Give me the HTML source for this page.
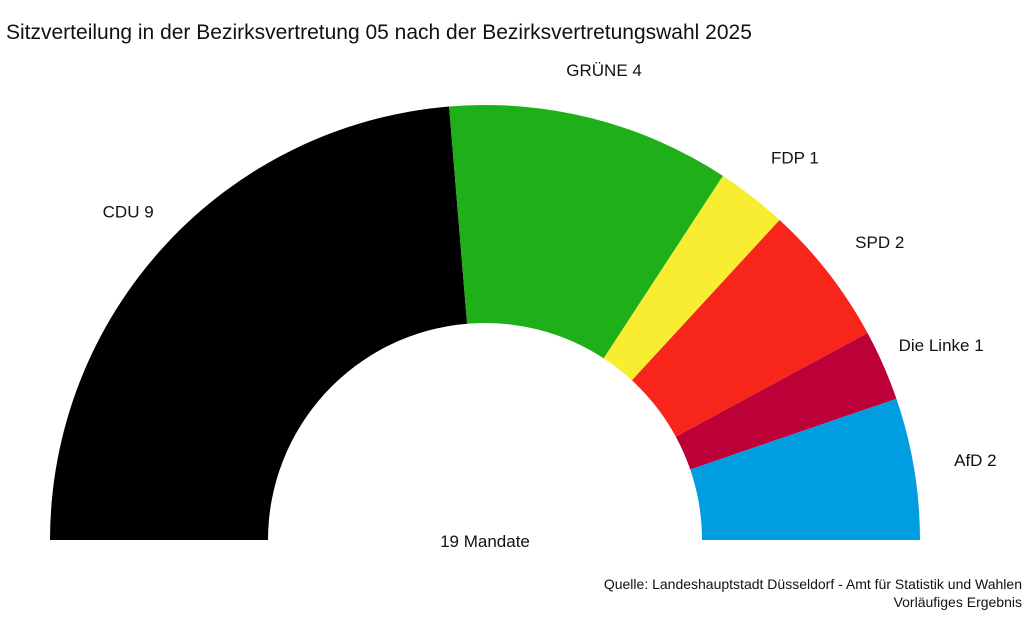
<!DOCTYPE html>
<html><head><meta charset="utf-8"><style>
body{margin:0;background:#fff;font-family:"Liberation Sans",sans-serif;}
svg{display:block}
</style></head><body>
<svg width="1024" height="640" id="chart" xmlns="http://www.w3.org/2000/svg">
<text x="6" y="39" font-size="21" fill="#111">Sitzverteilung in der Bezirksvertretung 05 nach der Bezirksvertretungswahl 2025</text>
<g id="slices"></g>
<g id="labels"></g>
<text x="485" y="547" font-size="17" text-anchor="middle" fill="#111">19 Mandate</text>
<text x="1022" y="589" font-size="14" text-anchor="end" fill="#111">Quelle: Landeshauptstadt Düsseldorf - Amt für Statistik und Wahlen</text>
<text x="1022" y="607" font-size="14" text-anchor="end" fill="#111">Vorläufiges Ergebnis</text>
</svg>
<script>
const parties = ["CDU","GRÜNE","FDP","SPD","Die Linke","AfD"];
const seats = [9,4,1,2,1,2];
const colors = ["#000000","#1fb019","#f9ed32","#f8251b","#be0039","#009ee0"];
const cx=485, cy=540, rO=435, rI=217, rL=485;
const total = seats.reduce((a,b)=>a+b,0);
const ns="http://www.w3.org/2000/svg";
const gS=document.getElementById('slices'), gL=document.getElementById('labels');
function pt(r,a){return [cx+r*Math.cos(a), cy-r*Math.sin(a)];}
let cum=0;
seats.forEach((s,i)=>{
  const a0=Math.PI*(1-cum/total), a1=Math.PI*(1-(cum+s)/total);
  cum+=s;
  const p0=pt(rO,a0),p1=pt(rO,a1),p2=pt(rI,a1),p3=pt(rI,a0);
  const large=(a0-a1)>Math.PI?1:0;
  const path=document.createElementNS(ns,'path');
  path.setAttribute('d',`M${p0[0]},${p0[1]} A${rO},${rO} 0 ${large} 1 ${p1[0]},${p1[1]} L${p2[0]},${p2[1]} A${rI},${rI} 0 ${large} 0 ${p3[0]},${p3[1]} Z`);
  path.setAttribute('fill',colors[i]);
  
  
  gS.appendChild(path);
  const am=(a0+a1)/2, lp=pt(rL,am);
  const t=document.createElementNS(ns,'text');
  t.setAttribute('x',lp[0]+(Math.cos(am)>0.3?12:0));
  t.setAttribute('y',lp[1]+6);
  t.setAttribute('font-size','17');
  t.setAttribute('fill','#111');
  t.setAttribute('text-anchor','middle');
  
  
  t.textContent=parties[i]+' '+s;
  gL.appendChild(t);
});
</script>
</body></html>
